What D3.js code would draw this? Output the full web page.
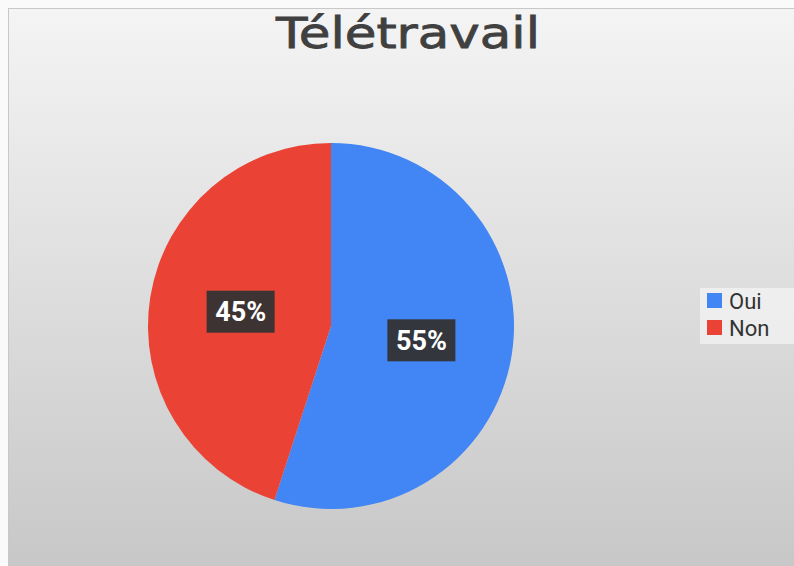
<!DOCTYPE html>
<html>
<head>
<meta charset="utf-8">
<script src="https://cdn.jsdelivr.net/npm/d3@7"></script>
<style>
  body { margin: 0; background: #fafafa; }
  svg { display: block; }
</style>
</head>
<body>
<svg id="chart" width="794" height="566"></svg>
<script>
const categories = ['Oui', 'Non'];
const values = [55, 45];
const colors = ['#4285f4', '#ea4335'];
const title = 'Télétravail';

const svg = d3.select('#chart');

// background panel with vertical gradient
const defs = svg.append('defs');
const grad = defs.append('linearGradient').attr('id', 'bg')
  .attr('x1', 0).attr('y1', 0).attr('x2', 0).attr('y2', 1);
grad.append('stop').attr('offset', '0%').attr('stop-color', '#f4f4f4');
grad.append('stop').attr('offset', '100%').attr('stop-color', '#c4c4c4');

svg.append('rect')
  .attr('x', 8.5).attr('y', 8.5)
  .attr('width', 800).attr('height', 600)
  .attr('fill', 'url(#bg)')
  .attr('stroke', '#c8c8c8');

svg.append('text')
  .attr('x', 408).attr('y', 48)
  .attr('text-anchor', 'middle')
  .attr('font-family', 'DejaVu Sans, sans-serif')
  .attr('font-size', 42)
  .attr('textLength', 264)
  .attr('lengthAdjust', 'spacingAndGlyphs')
  .attr('fill', '#404040')
  .attr('stroke', '#404040')
  .attr('stroke-width', 0.8)
  .text(title);

const cx = 331, cy = 326, r = 183;
const g = svg.append('g').attr('transform', `translate(${cx},${cy})`);

const pie = d3.pie().sort(null).value(d => d.value);
const arcs = pie(categories.map((c, i) => ({ cat: c, value: values[i], color: colors[i] })));
const arc = d3.arc().innerRadius(0).outerRadius(r);
const labelArc = d3.arc().innerRadius(r * 0.5).outerRadius(r * 0.5);

g.selectAll('path').data(arcs).enter().append('path')
  .attr('d', arc)
  .attr('fill', d => d.data.color);

const total = d3.sum(values);
const labels = g.selectAll('.lbl').data(arcs).enter().append('g')
  .attr('class', 'lbl')
  .attr('transform', d => `translate(${labelArc.centroid(d)})`);

labels.append('rect')
  .attr('x', -34).attr('y', -21)
  .attr('width', 68).attr('height', 42)
  .attr('fill', '#333')
  .attr('fill-opacity', 0.95);

labels.append('text')
  .attr('text-anchor', 'middle')
  .attr('dy', '0.35em')
  .attr('font-family', 'Roboto, sans-serif')
  .attr('font-weight', 'bold')
  .attr('font-size', 27)
  .attr('fill', '#fff')
  .text(d => Math.round(d.data.value / total * 100) + '%');

// legend
const legend = svg.append('g').attr('transform', 'translate(700,288)');
legend.append('rect')
  .attr('width', 100).attr('height', 56)
  .attr('fill', '#fff').attr('fill-opacity', 0.5);

const items = legend.selectAll('.item').data(categories).enter().append('g')
  .attr('class', 'item')
  .attr('transform', (d, i) => `translate(7,${5 + i * 27})`);

items.append('rect')
  .attr('width', 15).attr('height', 15)
  .attr('fill', (d, i) => colors[i]);

items.append('text')
  .attr('x', 22).attr('y', 8)
  .attr('dy', '0.35em')
  .attr('font-family', 'Roboto, sans-serif')
  .attr('font-size', 22)
  .attr('fill', '#333')
  .text(d => d);
</script>
</body>
</html>
